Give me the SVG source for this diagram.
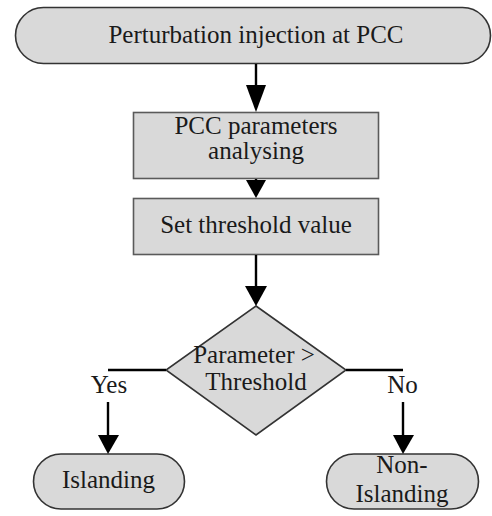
<svg xmlns="http://www.w3.org/2000/svg" width="492" height="516" viewBox="0 0 492 516">
<defs>
<style>
.n{fill:#d9d9d9;stroke:#333;stroke-width:1.6}
.b{fill:#d9d9d9;stroke:#5a5a5a;stroke-width:1.6}
.t{font-family:'Liberation Serif','Times New Roman',serif;font-size:25px;fill:#1a1a1a;text-anchor:middle}
.c{stroke:#000;stroke-width:2.4;fill:none}
.h{fill:#000}
</style>
</defs>
<rect width="492" height="516" fill="#fff"/>
<g id="start">
<rect class="n" x="15.5" y="7.5" width="475" height="56" rx="28" ry="28"/>
<text class="t" x="256" y="43">Perturbation injection at PCC</text>
</g>
<g id="analyse">
<rect class="b" x="133.5" y="112.5" width="245" height="66"/>
<text class="t" x="256" y="134">PCC parameters</text>
<text class="t" x="256" y="159">analysing</text>
</g>
<g id="threshold">
<rect class="b" x="133.5" y="198.5" width="245" height="56"/>
<text class="t" x="256" y="233">Set threshold value</text>
</g>
<g id="decision">
<polygon class="n" points="256,306 346,370 256,435 166,370"/>
<text class="t" x="254" y="363">Parameter &gt;</text>
<text class="t" x="256" y="390">Threshold</text>
</g>
<g id="islanding">
<rect class="n" x="33.5" y="454" width="151" height="55" rx="27.5" ry="27.5"/>
<text class="t" x="108.5" y="488">Islanding</text>
</g>
<g id="nonislanding">
<rect class="n" x="326.5" y="454" width="152" height="55" rx="27.5" ry="27.5"/>
<text class="t" x="402" y="473">Non-</text>
<text class="t" x="402" y="502">Islanding</text>
</g>
<g id="connectors">
<line class="c" x1="256" y1="64" x2="256" y2="87"/>
<polygon class="h" points="246,85 266,85 256,112"/>
<polygon class="h" points="246,180 266,180 256,198"/>
<line class="c" x1="256" y1="179" x2="256" y2="182"/>
<line class="c" x1="256" y1="255" x2="256" y2="288"/>
<polygon class="h" points="245,286 267,286 256,306"/>
<polyline class="c" points="166,370 108,370"/>
<polyline class="c" points="346,370 403,370"/>
<line class="c" x1="108" y1="402" x2="108" y2="437"/>
<polygon class="h" points="98,435 119,435 108,454"/>
<line class="c" x1="403" y1="402" x2="403" y2="437"/>
<polygon class="h" points="393,435 414,435 403,454"/>
<text class="t" x="109" y="393">Yes</text>
<text class="t" x="402.5" y="393">No</text>
</g>
</svg>
